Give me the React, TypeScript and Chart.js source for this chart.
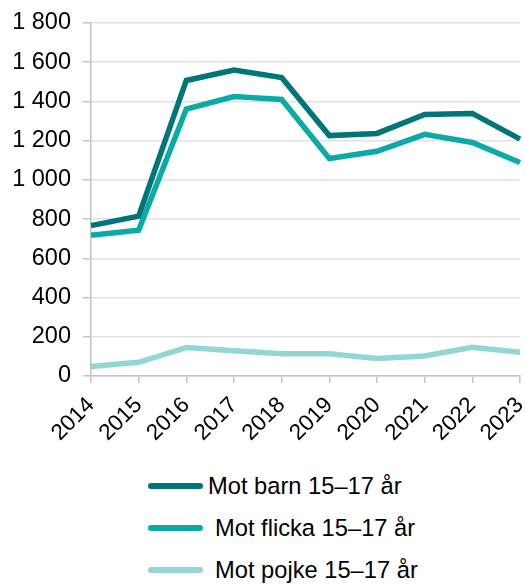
import React, { useEffect, useRef } from "react";
import { Chart, registerables } from "chart.js";

Chart.register(...registerables);

const years = ["2014", "2015", "2016", "2017", "2018", "2019", "2020", "2021", "2022", "2023"];
const motBarn = [767, 815, 1507, 1560, 1522, 1226, 1237, 1334, 1339, 1208];
const motFlicka = [718, 743, 1361, 1425, 1410, 1109, 1146, 1232, 1191, 1089];
const motPojke = [48, 70, 145, 129, 114, 114, 89, 102, 146, 121];
const seriesNames = ["Mot barn 15–17 år", "Mot flicka 15–17 år", "Mot pojke 15–17 år"];
const seriesColors = ["#00767a", "#0aaba6", "#93d7d4"];
const yTicksMax = 1800;
const yStep = 200;

const FONT = "'Liberation Sans', Arial, sans-serif";

function fmt(v: number): string {
  return String(v).replace(/\B(?=(\d{3})+(?!\d))/g, " ");
}

export default function App() {
  const ref = useRef<HTMLCanvasElement | null>(null);

  useEffect(() => {
    document.body.style.margin = "0";
    const canvas = ref.current;
    if (!canvas) return;
    const data = [motBarn, motFlicka, motPojke];
    const chart = new Chart(canvas, {
      type: "line",
      data: {
        labels: years,
        datasets: data.map((d, i) => ({
          label: seriesNames[i],
          data: d,
          borderColor: seriesColors[i],
          backgroundColor: seriesColors[i],
          borderWidth: 5.5,
          pointRadius: 0,
          tension: 0,
          fill: false,
        })),
      },
      options: {
        animation: false,
        responsive: false,
        maintainAspectRatio: false,
        layout: { padding: { top: 23, right: 5, left: 0, bottom: 0 } },
        plugins: { legend: { display: false }, tooltip: { enabled: false } },
        scales: {
          x: {
            offset: false,
            grid: {
              drawOnChartArea: false,
              drawTicks: true,
              tickLength: 7,
              tickColor: "#c4c4c4",
              lineWidth: 1.5,
            },
            border: { color: "#c4c4c4", width: 1.5 },
            ticks: {
              minRotation: 45,
              maxRotation: 45,
              autoSkip: false,
              padding: 9,
              color: "#000",
              font: { family: FONT, size: 22.5 },
            },
            afterFit: (s: any) => {
              s.height = 84;
              s.paddingLeft = 0;
              s.paddingRight = 0;
            },
          },
          y: {
            min: 0,
            max: yTicksMax,
            grid: {
              color: "#e2e2e2",
              lineWidth: 1.5,
              tickLength: 8,
              tickColor: "#c4c4c4",
            },
            border: { color: "#c4c4c4", width: 1.5 },
            ticks: {
              stepSize: yStep,
              padding: 12,
              color: "#000",
              font: { family: FONT, size: 23.5 },
              callback: (v: any) => fmt(Number(v)),
            },
            afterFit: (s: any) => {
              s.width = 91;
              s.paddingTop = 0;
              s.paddingBottom = 0;
            },
          },
        },
      },
    });
    return () => chart.destroy();
  }, []);

  const rows = [
    { top: 486, gap: 5 },
    { top: 528, gap: 12 },
    { top: 570, gap: 12 },
  ];

  return (
    <div style={{ position: "relative", width: 525, height: 584 }}>
      <canvas ref={ref} width={525} height={460} style={{ display: "block" }} />
      {seriesNames.map((name, i) => (
        <div
          key={name}
          style={{
            position: "absolute",
            left: 148,
            top: rows[i].top - 15,
            height: 30,
            display: "flex",
            alignItems: "center",
            fontFamily: FONT,
            fontSize: 23.7,
            color: "#000",
            whiteSpace: "nowrap",
          }}
        >
          <span
            style={{
              display: "inline-block",
              width: 55,
              height: 6,
              borderRadius: 3,
              background: seriesColors[i],
              marginRight: rows[i].gap,
            }}
          />
          <span>{name}</span>
        </div>
      ))}
    </div>
  );
}
